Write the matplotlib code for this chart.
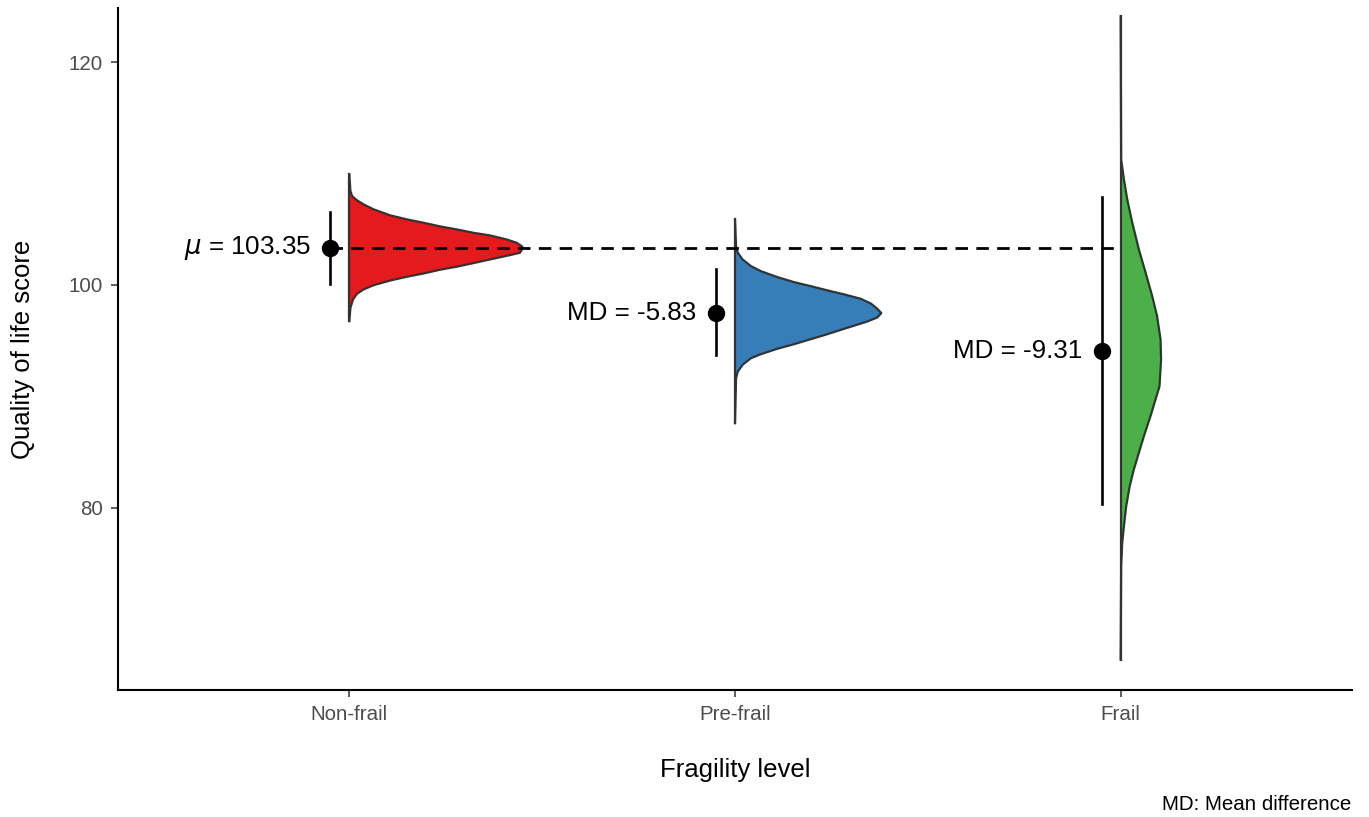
import numpy as np
import matplotlib
matplotlib.use("Agg")
import matplotlib.pyplot as plt

plt.rcParams['font.family'] = ['Liberation Sans', 'DejaVu Sans']

groups = ['Non-frail', 'Pre-frail', 'Frail']
colors = ['#E41A1C', '#377EB8', '#4DAF4A']

# point estimates and intervals
means = [103.35, 97.52, 94.04]
lower = [100.1, 93.75, 80.3]
upper = [106.6, 101.4, 107.9]
labels = [r'$\mu$ = 103.35', 'MD = -5.83', 'MD = -9.31']

# slab outlines: y value and relative density
nf_y = [109.93, 108.43, 107.98, 107.60, 107.24, 106.79, 106.25, 105.89, 105.59, 105.26,
        104.99, 104.69, 104.45, 104.09, 103.79, 103.49, 103.33, 102.89, 102.68, 102.29,
        101.96, 101.64, 101.37, 101.03, 100.74, 100.40, 99.98, 99.60, 99.21, 98.70,
        97.95, 96.75]
nf_d = [0, 0.006, 0.016, 0.044, 0.082, 0.140, 0.236, 0.332, 0.427, 0.523,
        0.619, 0.714, 0.810, 0.906, 0.964, 0.993, 1.0, 0.983, 0.925, 0.810,
        0.714, 0.619, 0.523, 0.427, 0.332, 0.236, 0.140, 0.082, 0.044, 0.021,
        0.006, 0]

pf_y = [105.89, 103.49, 102.89, 102.29, 101.69, 101.24, 100.70, 100.25, 99.89, 99.51,
        99.15, 98.76, 98.34, 97.86, 97.47, 97.08, 96.72, 96.06, 95.58, 95.13,
        94.68, 94.27, 93.78, 93.42, 92.83, 92.22, 91.62, 87.58]
pf_d = [0, 0.006, 0.016, 0.044, 0.092, 0.149, 0.245, 0.341, 0.437, 0.533,
        0.629, 0.724, 0.782, 0.820, 0.843, 0.820, 0.763, 0.629, 0.533, 0.437,
        0.341, 0.245, 0.149, 0.092, 0.044, 0.016, 0.006, 0]

fr_y = [124.13, 111.28, 109.48, 107.69, 105.59, 103.19, 101.10, 98.99, 97.20, 95.10,
        93.30, 90.90, 89.71, 88.21, 86.41, 84.92, 83.42, 81.91, 80.12, 78.32,
        76.83, 74.74, 66.34]
fr_d = [0, 0.003, 0.019, 0.038, 0.067, 0.105, 0.144, 0.182, 0.210, 0.230,
        0.233, 0.224, 0.201, 0.172, 0.134, 0.105, 0.076, 0.052, 0.032, 0.019,
        0.009, 0.003, 0]

slabs = [(nf_y, nf_d), (pf_y, pf_d), (fr_y, fr_d)]

fig = plt.figure(figsize=(13.69, 8.17), dpi=100)
ax = fig.add_axes([0.0862, 0.1554, 0.9014, 0.835])

scale = 0.45
for i, (ys, ds) in enumerate(slabs):
    x0 = i + 1
    xs = x0 + scale * np.array(ds)
    ax.fill_betweenx(ys, x0, xs, facecolor=colors[i], edgecolor='none', zorder=2)
    ax.plot(xs, ys, color='#333333', lw=1.6, zorder=3, solid_joinstyle='round')
    ax.plot([x0, x0], [min(ys), max(ys)], color='#333333', lw=1.6, zorder=3)

# reference line at the non-frail mean
ax.plot([0.951, 3], [means[0], means[0]], color='black', lw=2.0,
        dashes=(4.5, 3.0), zorder=4)

for i in range(3):
    xp = i + 1 - 0.049
    ax.plot([xp, xp], [lower[i], upper[i]], color='black', lw=1.9, zorder=5)
    ax.plot(xp, means[i], 'o', color='black', ms=11.5, zorder=6)
    ax.annotate(labels[i], (xp, means[i]), xytext=(-14, 0), textcoords='offset points',
                ha='right', va='center', fontsize=18.7, zorder=7)

ax.set_xlim(0.4, 3.6)
ax.set_ylim(63.6, 124.9)
ax.set_xticks([1, 2, 3])
ax.set_xticklabels(groups)
ax.set_yticks([80, 100, 120])
ax.tick_params(axis='both', colors='#333333', labelcolor='#4D4D4D', labelsize=14.8,
               length=5, width=1.1, pad=6)
for s in ['top', 'right']:
    ax.spines[s].set_visible(False)
for s in ['left', 'bottom']:
    ax.spines[s].set_linewidth(1.5)
    ax.spines[s].set_color('black')

ax.set_xlabel('Fragility level', fontsize=18.5, labelpad=24)
ax.set_ylabel('Quality of life score', fontsize=18.5, labelpad=24)
fig.text(0.987, 0.0086, 'MD: Mean difference', ha='right', va='baseline', fontsize=14.8)

fig.savefig('out.png', dpi=100)
